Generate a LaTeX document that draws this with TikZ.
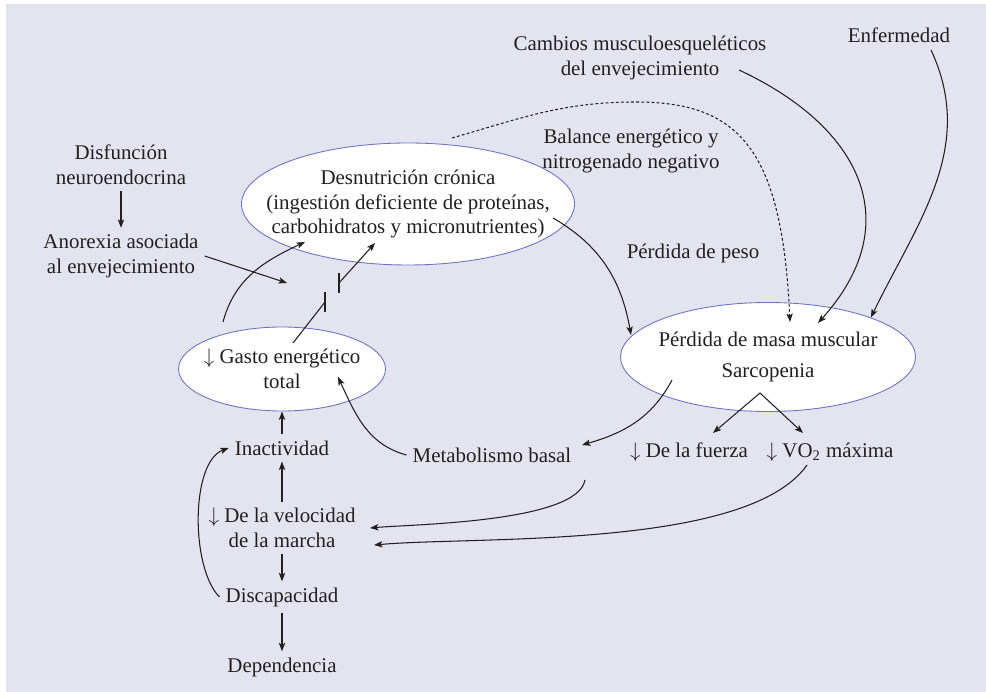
\documentclass[tikz,border=0pt]{standalone}
\usepackage{fontspec}
\setmainfont{Liberation Serif}
\usetikzlibrary{shapes.geometric, arrows.meta, calc}
\definecolor{lavender}{HTML}{E4E4F1}
\definecolor{rim}{HTML}{6F72C2}
\definecolor{ink}{HTML}{231F20}

\begin{document}
\begin{tikzpicture}
    \tikzstyle{every node} = [font=\fontsize{11.9}{14.2}\selectfont, text=ink]
    \tikzstyle{txt} = [align=center]
    \tikzstyle{bubble} = [ellipse, draw=rim, line width=0.5pt, fill=white, align=center, inner sep=-1cm]
    \tikzstyle{arrow} = [draw=ink, line width=0.6pt, ->, >={Stealth[length=4.8pt, width=3.6pt, inset=1.1pt]}]
    \tikzstyle{dotarrow} = [arrow, dash pattern=on 1.6pt off 1.3pt]
    \tikzstyle{bar} = [draw=ink, line width=0.6pt]

    \useasboundingbox (0,0) rectangle (19.72,-13.84);
    \fill [lavender] (0.12,-0.08) rectangle (19.72,-13.84);

    \node (dis) [txt] at (2.42,-3.30) {Disfunción\\neuroendocrina};
    \node (ano) [txt, below of=dis, yshift=-0.82cm] {Anorexia asociada\\al envejecimiento};
    \node (desn) [bubble, minimum width=6.66cm, minimum height=2.44cm, right of=dis, xshift=4.74cm, yshift=-0.78cm] {Desnutrición crónica\\(ingestión deficiente de proteínas,\\carbohidratos y micronutrientes)};
    \node (gasto) [bubble, minimum width=4.14cm, minimum height=1.68cm, below of=desn, xshift=-2.52cm, yshift=-2.30cm] {$\downarrow$ Gasto energético\\total};
    \node (perd) [bubble, minimum width=5.90cm, minimum height=2.18cm, right of=desn, xshift=6.20cm, yshift=-3.06cm] {Pérdida de masa muscular\\[3pt]Sarcopenia};
    \node (peso) [txt, above of=perd, xshift=-1.50cm, yshift=1.08cm] {Pérdida de peso};
    \node (balance) [txt, above of=peso, xshift=-1.24cm, yshift=1.04cm] {Balance energético y\\nitrogenado negativo};
    \node (cambios) [txt, above of=balance, xshift=0.18cm, yshift=0.86cm] {Cambios musculoesqueléticos\\del envejecimiento};
    \node (enf) [txt, right of=cambios, xshift=4.18cm, yshift=0.46cm] {Enfermedad};
    \node (inact) [txt, below of=gasto, yshift=-0.58cm] {Inactividad};
    \node (veloc) [txt, below of=inact, yshift=-0.60cm] {$\downarrow$ De la velocidad\\de la marcha};
    \node (disc) [txt, below of=veloc, yshift=-0.38cm] {Discapacidad};
    \node (dep) [txt, below of=disc, yshift=-0.40cm] {Dependencia};
    \node (metab) [txt, right of=inact, xshift=3.20cm, yshift=-0.14cm] {Metabolismo basal};
    \node (fuerza) [txt, below of=perd, xshift=-1.58cm, yshift=-0.90cm] {$\downarrow$ De la fuerza};
    \node (vo2) [txt, right of=fuerza, xshift=1.82cm] {$\downarrow$ VO\textsubscript{2} máxima};

    % ends of the connectors
    \coordinate (stop) at ($(desn)+(-2.42,-1.58)$);
    \coordinate (barlo) at ($(desn)+(-1.66,-1.96)$);
    \coordinate (barhi) at ($(desn)+(-1.38,-1.58)$);
    \coordinate (desnlo) at ($(desn)+(-0.66,-0.78)$);
    \coordinate (desnleft) at ($(desn)+(-2.06,-0.76)$);
    \coordinate (desnright) at ($(desn)+(2.90,-0.28)$);
    \coordinate (desntop) at ($(desn)+(0.88,1.32)$);
    \coordinate (dotpeak) at ($(desn)+(4.56,2.04)$);
    \coordinate (gastotop) at ($(gasto)+(0.22,0.52)$);
    \coordinate (gastoleft) at ($(gasto)+(-1.18,0.94)$);
    \coordinate (gastoin) at ($(gasto)+(1.12,-0.16)$);
    \coordinate (perdleft) at ($(perd)+(-2.74,0.44)$);
    \coordinate (perdtop) at ($(perd)+(0.44,0.70)$);
    \coordinate (perdmid) at ($(perd)+(1.00,0.68)$);
    \coordinate (perdlo) at ($(perd)+(-1.92,-0.46)$);
    \coordinate (sarc) at ($(perd)+(-0.16,-0.72)$);
    \coordinate (cambiosend) at ($(cambios)+(1.98,-0.24)$);
    \coordinate (enfend) at ($(enf)+(0.64,-0.30)$);
    \coordinate (metabend) at ($(metab)+(1.80,0.20)$);
    \coordinate (metablow) at ($(metab)+(1.86,-0.50)$);
    \coordinate (fuerzatop) at ($(fuerza)+(0.48,0.38)$);
    \coordinate (vo2top) at ($(vo2)+(-0.54,0.38)$);
    \coordinate (vo2low) at ($(vo2)+(-0.46,-0.26)$);
    \coordinate (velochi) at ($(veloc)+(1.76,0)$);
    \coordinate (veloclo) at ($(veloc)+(1.84,-0.34)$);

    \draw [arrow] (dis) -- (ano);
    \draw [arrow] (ano.east) -- (stop);
    \draw [arrow] (gastoleft) to[out=75, in=205] (desnleft);
    \draw [bar] (gastotop) -- (barlo);
    \draw [bar] ($(barlo)+(0,0.2)$) -- ($(barlo)+(0,-0.2)$);
    \draw [bar] ($(barhi)+(0,0.2)$) -- ($(barhi)+(0,-0.2)$);
    \draw [arrow] (barhi) -- (desnlo);
    \draw [arrow] (desnright) to[out=-30, in=100] (perdleft);
    \draw [dotarrow] (desntop) to[out=16, in=180] (dotpeak) .. controls +(2.08,0) and +(-0.16,3.44) .. (perdtop);
    \draw [arrow] (cambiosend) to[out=-25, in=48, looseness=1.3] (perdmid);
    \draw [arrow] (enfend) to[out=-65, in=64] (perd.21);
    \draw [arrow] (perdlo) to[out=-118, in=16] (metabend);
    \draw [arrow] (metab.west) to[out=165, in=-65] (gastoin);
    \draw [arrow] (sarc) -- (fuerzatop);
    \draw [arrow] (sarc) -- (vo2top);
    \draw [arrow] (metablow) to[out=-100, in=5, looseness=0.5] (velochi);
    \draw [arrow] (vo2low) to[out=-125, in=5, looseness=0.6] (veloclo);
    \draw [arrow] (inact) -- (gasto);
    \draw [arrow] (veloc) -- (inact);
    \draw [arrow] (veloc) -- (disc);
    \draw [arrow] (disc) -- (dep);
    \draw [arrow] (disc.west) to[out=135, in=200, looseness=0.7] (inact.west);
\end{tikzpicture}
\end{document}
